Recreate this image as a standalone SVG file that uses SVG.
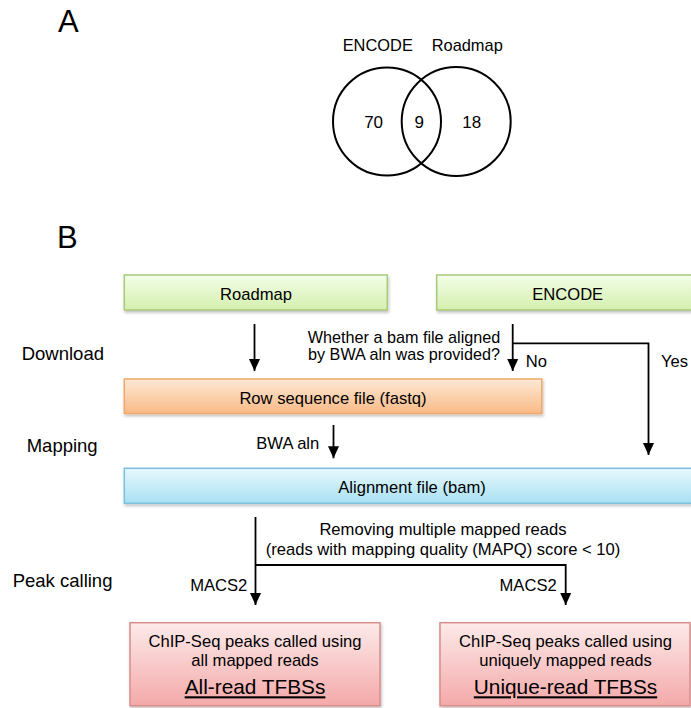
<svg xmlns="http://www.w3.org/2000/svg" width="691" height="708" viewBox="0 0 691 708">
<style>
text{font-family:"Liberation Sans",Arial,Helvetica,sans-serif;fill:#000}
.panel{font-size:31px}
.v{font-size:16.4px}
.n{font-size:17px;text-anchor:middle}
.bt{font-size:16.6px;text-anchor:middle}
.q{font-size:16.2px;text-anchor:middle}
.side{font-size:18.5px}
.lab{font-size:16.6px}
.big{font-size:20.8px;text-anchor:middle;text-decoration:underline}
.venn{fill:none;stroke:#000;stroke-width:2}
.conn{fill:none;stroke:#000;stroke-width:1.8}
.green{fill:url(#gGreen);stroke:#a9c97a;stroke-width:1.5}
.orange{fill:url(#gOrange);stroke:#f0a868;stroke-width:1.5}
.blue{fill:url(#gBlue);stroke:#7cc0dc;stroke-width:1.5}
.red{fill:url(#gRed);stroke:#d98c8c;stroke-width:1.5}
</style>
<defs>
<linearGradient id="gGreen" x1="0" y1="0" x2="0" y2="1"><stop offset="0" stop-color="#f4fde9"/><stop offset="1" stop-color="#d3f0ad"/></linearGradient>
<linearGradient id="gOrange" x1="0" y1="0" x2="0" y2="1"><stop offset="0" stop-color="#fde9d6"/><stop offset="1" stop-color="#f9ba86"/></linearGradient>
<linearGradient id="gBlue" x1="0" y1="0" x2="0" y2="1"><stop offset="0" stop-color="#e8f8fd"/><stop offset="1" stop-color="#a8e0f3"/></linearGradient>
<linearGradient id="gRed" x1="0" y1="0" x2="0" y2="1"><stop offset="0" stop-color="#fdeaea"/><stop offset="1" stop-color="#f4a9a9"/></linearGradient>
<filter id="sh" x="-5%" y="-20%" width="110%" height="150%"><feDropShadow dx="1" dy="2" stdDeviation="1.5" flood-color="#000" flood-opacity="0.25"/></filter>
<marker id="ah" markerUnits="userSpaceOnUse" markerWidth="12" markerHeight="12" viewBox="0 0 12 12" refX="12" refY="6" orient="auto"><path d="M0,0.5 L12,6 L0,11.5 z" fill="#000"/></marker>
</defs>
<rect width="691" height="708" fill="#fff"/>

<g id="panelA">
<text class="panel" x="58" y="32">A</text>
<g id="venn-encode"><circle class="venn" cx="387" cy="121.5" r="54"/><text class="v" x="342.7" y="51">ENCODE</text><text class="n" x="373.6" y="128.3">70</text></g>
<g id="venn-roadmap"><circle class="venn" cx="456.2" cy="121.5" r="54.5"/><text class="v" x="431.7" y="51">Roadmap</text><text class="n" x="471.7" y="128.3">18</text></g>
<g id="venn-overlap"><text class="n" x="419.3" y="128.3">9</text></g>
</g>

<text class="panel" x="57" y="248">B</text>

<g id="stage-labels">
<text class="side" x="21.7" y="360">Download</text>
<text class="side" x="26.7" y="452">Mapping</text>
<text class="side" x="12.7" y="587.3">Peak calling</text>
</g>

<g id="node-roadmap"><rect class="green" x="124.3" y="275" width="263" height="35" filter="url(#sh)"/><text class="bt" x="256" y="300">Roadmap</text></g>
<g id="node-encode"><rect class="green" x="436.7" y="275" width="262" height="35" filter="url(#sh)"/><text class="bt" x="567.7" y="300">ENCODE</text></g>
<g id="node-fastq"><rect class="orange" x="124.3" y="379" width="417.5" height="34.5" filter="url(#sh)"/><text class="bt" x="333" y="403.5">Row sequence file (fastq)</text></g>
<g id="node-bam"><rect class="blue" x="124.3" y="468.3" width="576" height="35" filter="url(#sh)"/><text class="bt" x="412" y="493">Alignment file (bam)</text></g>
<g id="node-allread"><rect class="red" x="130" y="622.7" width="250" height="83" filter="url(#sh)"/>
<text class="bt" x="255" y="646.7">ChIP-Seq peaks called using</text>
<text class="bt" x="255" y="665.7">all mapped reads</text>
<text class="big" x="255" y="694.3">All-read TFBSs</text></g>
<g id="node-unique"><rect class="red" x="440" y="622.7" width="250" height="83" filter="url(#sh)"/>
<text class="bt" x="565.5" y="646.7">ChIP-Seq peaks called using</text>
<text class="bt" x="565.5" y="665.7">uniquely mapped reads</text>
<text class="big" x="565.5" y="694.3">Unique-read TFBSs</text></g>

<g id="connectors">
<path class="conn" d="M254.5,324 V371" marker-end="url(#ah)"/>
<path class="conn" d="M512.7,324 V371" marker-end="url(#ah)"/>
<path class="conn" d="M512.7,343.3 H648.5 V455" marker-end="url(#ah)"/>
<path class="conn" d="M333.5,425 V458.3" marker-end="url(#ah)"/>
<path class="conn" d="M255.5,517 V605" marker-end="url(#ah)"/>
<path class="conn" d="M255.5,565 H565.7 V605" marker-end="url(#ah)"/>
<text class="q" x="404" y="342.8">Whether a bam file aligned</text>
<text class="q" x="404" y="360.2">by BWA aln was provided?</text>
<text class="lab" x="525.7" y="366.7">No</text>
<text class="lab" x="661" y="366.7">Yes</text>
<text class="lab" x="319.3" y="449.3" text-anchor="end">BWA aln</text>
<text class="bt" x="443" y="535">Removing multiple mapped reads</text>
<text class="bt" x="443" y="555">(reads with mapping quality (MAPQ) score &lt; 10)</text>
<text class="lab" x="247.3" y="590.7" text-anchor="end">MACS2</text>
<text class="lab" x="556.7" y="590.7" text-anchor="end">MACS2</text>
</g>
</svg>
